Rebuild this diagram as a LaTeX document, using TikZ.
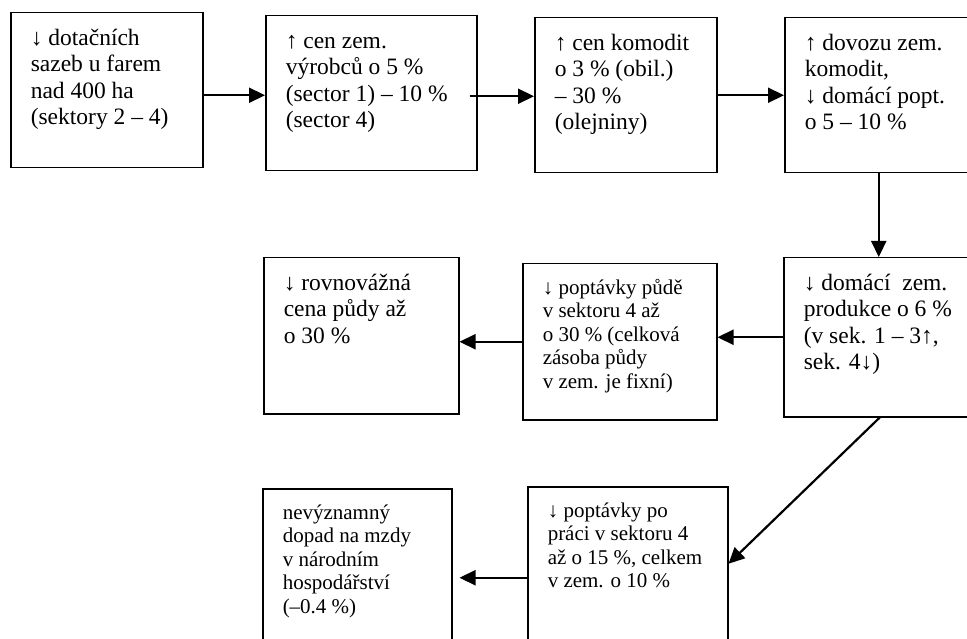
\documentclass[tikz,border=0pt]{standalone}
\usepackage{fontspec}
\setmainfont{Liberation Serif}
\usetikzlibrary{arrows.meta}

\newcommand{\bigtext}{\fontsize{23.5}{26.5}\selectfont}
\newcommand{\smalltext}{\fontsize{21}{23.5}\selectfont}
\newcommand{\boxtext}[3]{\parbox[c][#2pt][t]{#1pt}{\begin{tabular}[t]{@{}l@{}}#3\end{tabular}}}

\tikzset{
  stage/.style={draw, line width=1.5pt, anchor=north west, inner xsep=20pt, inner ysep=14pt},
  link/.style={line width=2.2pt, -{Triangle[length=16pt,width=15pt]}}
}

\begin{document}
\begin{tikzpicture}[x=1pt,y=-1pt]

\path[use as bounding box, clip] (0,0) rectangle (967,639);

\node[stage, font=\bigtext] (sub) at (10,12) {\boxtext{152}{127}{↓ dotačních\\ sazeb u farem\\ nad 400 ha\\ (sektory 2 – 4)}};
\node[stage, font=\bigtext] (prices) at (265,15) {\boxtext{171}{127}{↑ cen zem.\\ výrobců o 5 \%\\ (sector 1) – 10 \%\\ (sector 4)}};
\node[stage, font=\bigtext] (commod) at (534,17) {\boxtext{142}{127}{↑ cen komodit\\ o 3 \% (obil.)\\ – 30 \%\\ (olejniny)}};
\node[stage, font=\bigtext] (imports) at (784,17) {\boxtext{160}{127}{↑ dovozu zem.\\ komodit,\\ ↓ domácí popt.\\ o 5 – 10 \%}};

\node[stage, font=\bigtext] (output) at (783,257) {\boxtext{160}{131}{↓ domácí\ \ zem.\\ produkce o 6 \%\\ (v sek. 1 – 3↑,\\ sek. 4↓)}};
\node[stage, font=\smalltext] (landdem) at (522,263) {\boxtext{154}{128}{↓ poptávky půdě\\ v sektoru 4 až\\ o 30 \% (celková\\ zásoba půdy\\ v zem. je fixní)}};
\node[stage, font=\bigtext] (landprice) at (263,257) {\boxtext{155}{128}{↓ rovnovážná\\ cena půdy až\\ o 30 \%}};

\node[stage, font=\smalltext] (labour) at (527,486) {\boxtext{160}{126}{↓ poptávky po\\ práci v sektoru 4\\ až o 15 \%, celkem\\ v zem. o 10 \%}};
\node[stage, font=\smalltext] (wages) at (262,488) {\boxtext{149}{132}{nevýznamný\\ dopad na mzdy\\ v národním\\ hospodářství\\ (–0.4 \%)}};

\draw[link] ([yshift=-5pt]sub.east) -- ([yshift=-5pt]sub.east -| prices.west);
\draw[link] ([xshift=-8pt,yshift=-3pt]prices.east) -- ([yshift=-3pt]prices.east -| commod.west);
\draw[link] (commod.east) -- (commod.east -| imports.west);
\draw[link] ([xshift=-6pt]imports.south) -- ([xshift=-6pt]imports.south |- output.north);
\draw[link] (output.west) -- (output.west -| landdem.east);
\draw[link] (landdem.west) -- (landdem.west -| landprice.east);
\draw[link] ([xshift=-4pt]output.south) -- (labour.east);
\draw[link, shorten >=7pt] ([yshift=-14pt]labour.west) -- ([yshift=-14pt]labour.west -| wages.east);

\end{tikzpicture}
\end{document}
